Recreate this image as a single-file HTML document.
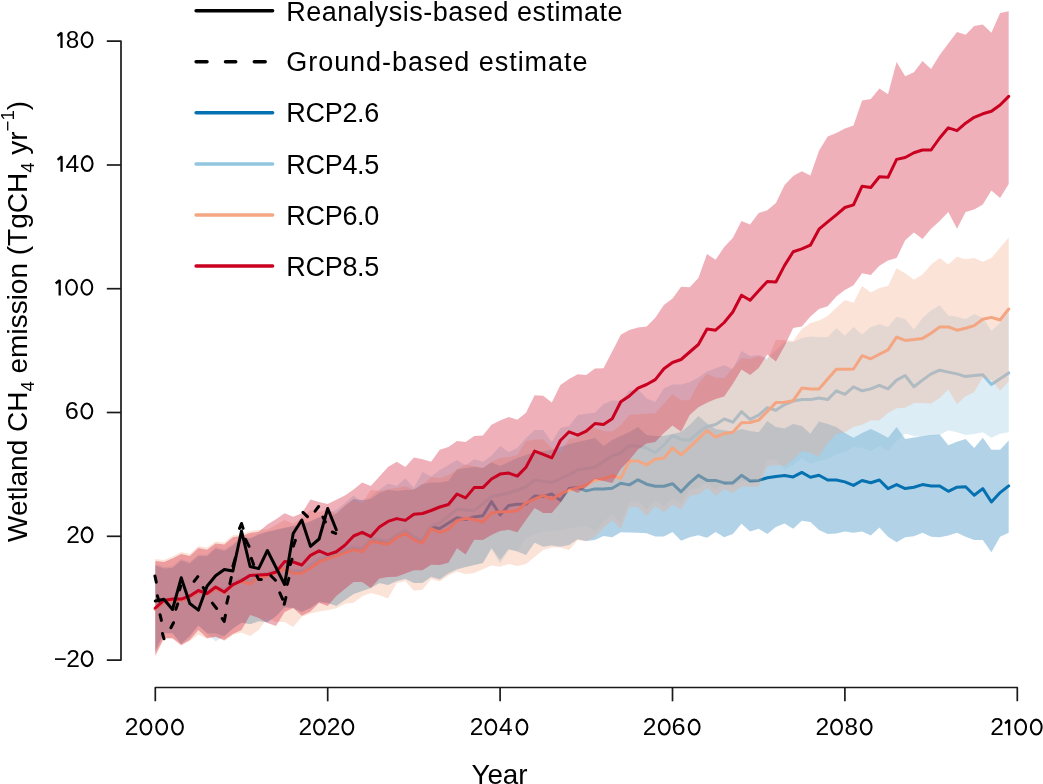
<!DOCTYPE html>
<html><head><meta charset="utf-8"><style>
html,body{margin:0;padding:0;background:#fff;}
body{width:1043px;height:784px;overflow:hidden;font-family:"Liberation Sans",sans-serif;}
svg{display:block;will-change:transform;}
</style></head><body>
<svg width="1043" height="784" viewBox="0 0 1043 784">
<rect width="1043" height="784" fill="#fff"/>
<path d="M155.3,565.5 L163.9,568.4 L172.5,567.9 L181.2,560.6 L189.8,563.4 L198.4,556.1 L207.0,556.3 L215.6,548.5 L224.3,551.1 L232.9,545.4 L241.5,537.5 L250.1,538.5 L258.7,534.5 L267.4,531.9 L276.0,530.0 L284.6,528.1 L293.2,526.2 L301.8,524.3 L310.5,521.5 L319.1,517.5 L327.7,518.0 L336.3,513.6 L344.9,506.0 L353.6,499.0 L362.2,500.0 L370.8,499.0 L379.4,493.0 L388.0,490.0 L396.7,491.0 L405.3,490.0 L413.9,489.4 L422.5,484.0 L431.1,482.5 L439.8,482.5 L448.4,481.0 L457.0,469.5 L465.6,468.0 L474.2,467.0 L482.9,468.0 L491.5,462.6 L500.1,466.0 L508.7,462.0 L517.3,458.0 L526.0,455.0 L534.6,452.0 L543.2,451.0 L551.8,450.0 L560.4,447.0 L569.1,444.0 L577.7,442.0 L586.3,440.0 L594.9,438.0 L603.5,446.0 L612.2,440.0 L620.8,436.0 L629.4,432.0 L638.0,427.0 L646.6,435.0 L655.3,436.0 L663.9,436.0 L672.5,434.0 L681.1,432.0 L689.7,425.0 L698.4,416.0 L707.0,423.4 L715.6,429.0 L724.2,430.3 L732.8,431.8 L741.5,429.0 L750.1,431.0 L758.7,432.3 L767.3,421.0 L775.9,427.0 L784.6,428.5 L793.2,424.0 L801.8,426.0 L810.4,433.7 L819.0,421.6 L827.7,424.0 L836.3,427.0 L844.9,433.0 L853.5,437.7 L862.1,433.0 L870.8,429.1 L879.4,433.0 L888.0,437.7 L896.6,427.0 L905.2,439.0 L913.9,437.5 L922.5,436.3 L931.1,435.0 L939.7,434.5 L948.3,445.2 L957.0,441.7 L965.6,439.0 L974.2,447.9 L982.8,437.7 L991.4,449.7 L1000.1,449.7 L1008.7,440.4 L1008.7,532.8 L1000.1,536.8 L991.4,552.3 L982.8,540.0 L974.2,540.0 L965.6,536.8 L957.0,532.8 L948.3,535.5 L939.7,537.3 L931.1,536.8 L922.5,532.8 L913.9,536.3 L905.2,537.3 L896.6,542.2 L888.0,536.8 L879.4,527.4 L870.8,535.5 L862.1,531.4 L853.5,532.8 L844.9,531.4 L836.3,533.6 L827.7,534.1 L819.0,530.1 L810.4,522.1 L801.8,520.7 L793.2,528.8 L784.6,523.5 L775.9,527.0 L767.3,533.9 L758.7,528.8 L750.1,531.4 L741.5,523.7 L732.8,533.9 L724.2,537.2 L715.6,532.1 L707.0,537.8 L698.4,535.2 L689.7,537.2 L681.1,540.8 L672.5,532.1 L663.9,536.5 L655.3,536.5 L646.6,533.2 L638.0,532.7 L629.4,532.5 L620.8,532.2 L612.2,537.3 L603.5,536.1 L594.9,540.0 L586.3,541.0 L577.7,539.3 L569.1,545.0 L560.4,546.8 L551.8,545.6 L543.2,546.8 L534.6,542.8 L526.0,555.0 L517.3,551.4 L508.7,549.0 L500.1,560.0 L491.5,548.0 L482.9,563.0 L474.2,565.0 L465.6,567.0 L457.0,569.5 L448.4,573.6 L439.8,579.5 L431.1,576.9 L422.5,583.0 L413.9,583.0 L405.3,579.1 L396.7,581.2 L388.0,585.0 L379.4,583.0 L370.8,588.0 L362.2,591.0 L353.6,594.0 L344.9,600.0 L336.3,606.0 L327.7,603.0 L319.1,602.0 L310.5,608.0 L301.8,612.0 L293.2,608.0 L284.6,607.3 L276.0,616.3 L267.4,622.3 L258.7,621.3 L250.1,624.3 L241.5,622.8 L232.9,628.5 L224.3,636.3 L215.6,633.3 L207.0,633.3 L198.4,625.6 L189.8,636.3 L181.2,643.9 L172.5,633.3 L163.9,633.3 L155.3,651.3Z" fill="#0571B0" fill-opacity="0.31"/>
<polyline points="155.3,609.0 163.9,601.4 172.5,600.1 181.2,600.1 189.8,597.0 198.4,591.5 207.0,594.5 215.6,588.0 224.3,591.2 232.9,583.5 241.5,580.0 250.1,582.5 258.7,575.7 267.4,574.8 276.0,571.3 284.6,567.0 293.2,572.0 301.8,571.7 310.5,566.8 319.1,560.5 327.7,557.1 336.3,554.6 344.9,551.4 353.6,548.1 362.2,550.3 370.8,540.1 379.4,541.2 388.0,542.7 396.7,536.2 405.3,531.9 413.9,538.4 422.5,541.6 431.1,527.1 439.8,528.4 448.4,523.0 457.0,517.7 465.6,519.5 474.2,516.9 482.9,515.7 491.5,501.6 500.1,514.9 508.7,505.5 517.3,504.2 526.0,504.2 534.6,496.0 543.2,496.5 551.8,494.0 560.4,500.4 569.1,488.4 577.7,487.6 586.3,490.9 594.9,488.9 603.5,489.1 612.2,488.2 620.8,483.3 629.4,484.9 638.0,479.8 646.6,484.2 655.3,486.2 663.9,486.2 672.5,483.7 681.1,491.8 689.7,482.9 698.4,475.3 707.0,480.4 715.6,480.4 724.2,482.9 732.8,482.9 741.5,475.3 750.1,481.1 758.7,480.4 767.3,477.8 775.9,476.5 784.6,475.5 793.2,476.9 801.8,472.4 810.4,477.3 819.0,475.2 827.7,480.0 836.3,480.0 844.9,481.9 853.5,485.4 862.1,480.5 870.8,482.7 879.4,480.0 888.0,488.6 896.6,484.6 905.2,488.6 913.9,487.2 922.5,484.6 931.1,485.9 939.7,485.9 948.3,491.3 957.0,487.2 965.6,486.7 974.2,495.3 982.8,488.6 991.4,502.0 1000.1,492.6 1008.7,485.9" fill="none" stroke="#0571B0" stroke-width="3.0" stroke-linejoin="round" stroke-linecap="round"/>
<path d="M155.3,564.0 L163.9,566.9 L172.5,566.4 L181.2,559.1 L189.8,561.9 L198.4,554.6 L207.0,554.8 L215.6,547.0 L224.3,549.6 L232.9,543.9 L241.5,537.0 L250.1,538.0 L258.7,534.0 L267.4,531.4 L276.0,529.5 L284.6,527.6 L293.2,525.7 L301.8,523.8 L310.5,521.0 L319.1,517.0 L327.7,513.2 L336.3,510.0 L344.9,503.0 L353.6,495.4 L362.2,503.2 L370.8,497.0 L379.4,489.4 L388.0,483.4 L396.7,486.0 L405.3,478.2 L413.9,487.7 L422.5,472.1 L431.1,476.4 L439.8,470.0 L448.4,465.0 L457.0,460.0 L465.6,465.2 L474.2,459.2 L482.9,461.8 L491.5,455.7 L500.1,446.0 L508.7,452.0 L517.3,448.0 L526.0,438.0 L534.6,430.0 L543.2,430.0 L551.8,442.0 L560.4,428.0 L569.1,426.0 L577.7,415.0 L586.3,413.7 L594.9,412.7 L603.5,404.0 L612.2,400.4 L620.8,401.0 L629.4,390.2 L638.0,389.2 L646.6,398.4 L655.3,401.9 L663.9,388.2 L672.5,384.4 L681.1,384.4 L689.7,382.1 L698.4,377.5 L707.0,371.4 L715.6,368.3 L724.2,365.2 L732.8,369.1 L741.5,351.0 L750.1,356.0 L758.7,355.0 L767.3,358.0 L775.9,350.0 L784.6,342.0 L793.2,342.0 L801.8,338.0 L810.4,336.5 L819.0,337.0 L827.7,337.1 L836.3,328.2 L844.9,335.8 L853.5,326.9 L862.1,334.5 L870.8,326.9 L879.4,324.3 L888.0,326.9 L896.6,316.7 L905.2,319.2 L913.9,329.4 L922.5,318.0 L931.1,310.3 L939.7,305.2 L948.3,315.4 L957.0,316.7 L965.6,319.2 L974.2,314.1 L982.8,318.0 L991.4,330.7 L1000.1,323.1 L1008.7,311.6 L1008.7,432.3 L1000.1,433.7 L991.4,437.7 L982.8,432.3 L974.2,434.0 L965.6,435.0 L957.0,432.3 L948.3,430.2 L939.7,435.0 L931.1,436.0 L922.5,437.0 L913.9,436.0 L905.2,433.5 L896.6,441.0 L888.0,451.0 L879.4,446.0 L870.8,451.0 L862.1,448.0 L853.5,447.0 L844.9,452.0 L836.3,454.0 L827.7,459.0 L819.0,461.0 L810.4,464.0 L801.8,458.0 L793.2,465.0 L784.6,470.0 L775.9,459.0 L767.3,460.3 L758.7,480.7 L750.1,480.7 L741.5,480.7 L732.8,487.1 L724.2,483.3 L715.6,489.7 L707.0,482.0 L698.4,488.4 L689.7,489.7 L681.1,503.7 L672.5,498.6 L663.9,506.2 L655.3,499.9 L646.6,510.1 L638.0,501.1 L629.4,501.1 L620.8,523.0 L612.2,514.3 L603.5,522.0 L594.9,531.0 L586.3,526.0 L577.7,527.0 L569.1,528.0 L560.4,530.0 L551.8,531.0 L543.2,532.0 L534.6,534.0 L526.0,538.0 L517.3,551.0 L508.7,550.0 L500.1,563.6 L491.5,549.0 L482.9,563.0 L474.2,565.0 L465.6,567.0 L457.0,568.5 L448.4,572.6 L439.8,578.5 L431.1,575.9 L422.5,583.0 L413.9,583.0 L405.3,578.1 L396.7,580.2 L388.0,585.0 L379.4,583.0 L370.8,588.0 L362.2,591.0 L353.6,594.0 L344.9,600.0 L336.3,605.2 L327.7,603.0 L319.1,602.0 L310.5,608.0 L301.8,612.0 L293.2,608.0 L284.6,607.0 L276.0,616.0 L267.4,622.0 L258.7,621.0 L250.1,624.0 L241.5,622.5 L232.9,628.2 L224.3,636.0 L215.6,641.6 L207.0,633.0 L198.4,625.3 L189.8,636.0 L181.2,643.6 L172.5,633.0 L163.9,633.0 L155.3,651.0Z" fill="#92C5DE" fill-opacity="0.31"/>
<polyline points="155.3,608.5 163.9,600.9 172.5,599.6 181.2,599.6 189.8,596.5 198.4,591.0 207.0,594.0 215.6,587.5 224.3,589.7 232.9,582.0 241.5,578.5 250.1,581.0 258.7,574.2 267.4,573.3 276.0,569.8 284.6,565.5 293.2,570.5 301.8,570.2 310.5,565.3 319.1,559.0 327.7,555.6 336.3,553.1 344.9,549.9 353.6,546.6 362.2,548.8 370.8,538.6 379.4,539.7 388.0,541.2 396.7,534.7 405.3,530.4 413.9,536.9 422.5,540.1 431.1,525.6 439.8,523.0 448.4,516.1 457.0,509.3 465.6,510.0 474.2,510.6 482.9,503.6 491.5,496.5 500.1,494.8 508.7,493.0 517.3,490.0 526.0,487.0 534.6,480.0 543.2,481.2 551.8,482.5 560.4,478.6 569.1,474.8 577.7,469.7 586.3,468.4 594.9,467.2 603.5,461.4 612.2,455.7 620.8,453.0 629.4,445.5 638.0,446.0 646.6,448.0 655.3,452.7 663.9,445.0 672.5,435.6 681.1,439.4 689.7,440.2 698.4,432.6 707.0,426.6 715.6,424.5 724.2,419.0 732.8,422.2 741.5,411.7 750.1,419.3 758.7,415.1 767.3,407.7 775.9,410.2 784.6,404.5 793.2,401.0 801.8,399.6 810.4,399.6 819.0,398.0 827.7,399.6 836.3,390.8 844.9,394.3 853.5,386.8 862.1,390.8 870.8,388.9 879.4,385.4 888.0,388.9 896.6,380.1 905.2,375.5 913.9,386.8 922.5,380.1 931.1,373.9 939.7,370.2 948.3,372.1 957.0,373.9 965.6,376.6 974.2,375.5 982.8,374.7 991.4,384.6 1000.1,378.8 1008.7,372.9" fill="none" stroke="#92C5DE" stroke-width="3.0" stroke-linejoin="round" stroke-linecap="round"/>
<path d="M155.3,559.0 L163.9,559.9 L172.5,556.4 L181.2,552.1 L189.8,553.9 L198.4,546.1 L207.0,547.8 L215.6,541.4 L224.3,542.6 L232.9,535.2 L241.5,534.0 L250.1,531.0 L258.7,529.7 L267.4,529.5 L276.0,525.0 L284.6,520.0 L293.2,523.8 L301.8,518.0 L310.5,510.0 L319.1,512.0 L327.7,509.4 L336.3,514.0 L344.9,505.0 L353.6,500.0 L362.2,503.0 L370.8,490.0 L379.4,491.0 L388.0,489.0 L396.7,488.0 L405.3,486.0 L413.9,490.0 L422.5,485.0 L431.1,477.3 L439.8,478.0 L448.4,475.0 L457.0,469.5 L465.6,464.4 L474.2,466.0 L482.9,468.0 L491.5,461.8 L500.1,458.0 L508.7,457.0 L517.3,455.0 L526.0,441.0 L534.6,439.7 L543.2,439.3 L551.8,448.0 L560.4,453.0 L569.1,438.4 L577.7,437.5 L586.3,428.0 L594.9,428.0 L603.5,431.0 L612.2,431.5 L620.8,425.0 L629.4,414.7 L638.0,414.2 L646.6,413.7 L655.3,413.2 L663.9,403.5 L672.5,394.0 L681.1,400.4 L689.7,399.7 L698.4,383.6 L707.0,373.7 L715.6,377.5 L724.2,378.2 L732.8,368.0 L741.5,358.0 L750.1,359.0 L758.7,356.0 L767.3,360.0 L775.9,340.0 L784.6,340.0 L793.2,341.0 L801.8,329.0 L810.4,323.0 L819.0,320.5 L827.7,316.0 L836.3,307.7 L844.9,300.1 L853.5,302.7 L862.1,286.1 L870.8,292.4 L879.4,287.9 L888.0,286.1 L896.6,268.2 L905.2,273.3 L913.9,279.7 L922.5,274.6 L931.1,264.4 L939.7,258.0 L948.3,264.4 L957.0,256.7 L965.6,259.3 L974.2,258.0 L982.8,261.8 L991.4,258.0 L1000.1,247.8 L1008.7,237.6 L1008.7,381.4 L1000.1,390.8 L991.4,380.1 L982.8,377.4 L974.2,392.1 L965.6,396.2 L957.0,404.2 L948.3,389.5 L939.7,398.0 L931.1,403.6 L922.5,402.9 L913.9,402.9 L905.2,407.7 L896.6,408.2 L888.0,413.0 L879.4,420.3 L870.8,420.3 L862.1,424.8 L853.5,427.0 L844.9,432.3 L836.3,433.7 L827.7,443.0 L819.0,456.4 L810.4,453.0 L801.8,451.0 L793.2,459.5 L784.6,466.0 L775.9,465.0 L767.3,466.3 L758.7,486.7 L750.1,486.7 L741.5,486.7 L732.8,493.1 L724.2,489.3 L715.6,495.7 L707.0,488.0 L698.4,494.4 L689.7,495.7 L681.1,509.7 L672.5,504.6 L663.9,512.2 L655.3,505.9 L646.6,516.1 L638.0,507.1 L629.4,507.1 L620.8,529.0 L612.2,520.3 L603.5,528.0 L594.9,537.0 L586.3,541.2 L577.7,539.9 L569.1,550.1 L560.4,547.6 L551.8,547.6 L543.2,550.1 L534.6,557.0 L526.0,564.0 L517.3,566.0 L508.7,564.1 L500.1,566.7 L491.5,565.4 L482.9,569.2 L474.2,573.1 L465.6,574.3 L457.0,571.5 L448.4,575.6 L439.8,581.5 L431.1,578.9 L422.5,589.7 L413.9,590.8 L405.3,581.1 L396.7,583.2 L388.0,598.4 L379.4,595.2 L370.8,593.0 L362.2,596.2 L353.6,602.7 L344.9,603.8 L336.3,608.2 L327.7,610.3 L319.1,611.4 L310.5,613.6 L301.8,616.8 L293.2,627.0 L284.6,622.0 L276.0,622.0 L267.4,618.0 L258.7,630.0 L250.1,636.0 L241.5,632.5 L232.9,635.0 L224.3,641.0 L215.6,636.0 L207.0,639.0 L198.4,634.5 L189.8,641.0 L181.2,645.5 L172.5,639.0 L163.9,639.0 L155.3,657.0Z" fill="#F4A582" fill-opacity="0.31"/>
<polyline points="155.3,609.2 163.9,601.6 172.5,600.3 181.2,600.3 189.8,597.2 198.4,591.7 207.0,594.7 215.6,588.2 224.3,592.7 232.9,585.0 241.5,581.5 250.1,584.0 258.7,577.2 267.4,576.3 276.0,572.8 284.6,568.5 293.2,573.5 301.8,573.2 310.5,568.3 319.1,562.0 327.7,558.6 336.3,556.1 344.9,552.9 353.6,549.6 362.2,551.8 370.8,541.6 379.4,542.7 388.0,544.2 396.7,537.7 405.3,533.4 413.9,539.9 422.5,543.1 431.1,528.6 439.8,532.5 448.4,529.2 457.0,520.6 465.6,518.2 474.2,519.5 482.9,522.0 491.5,513.1 500.1,511.8 508.7,511.8 517.3,510.6 526.0,502.9 534.6,499.1 543.2,495.3 551.8,499.1 560.4,494.0 569.1,490.2 577.7,487.6 586.3,485.1 594.9,480.0 603.5,478.9 612.2,475.8 620.8,478.2 629.4,461.0 638.0,461.0 646.6,465.0 655.3,459.0 663.9,458.2 672.5,447.8 681.1,454.8 689.7,447.2 698.4,438.8 707.0,430.5 715.6,437.1 724.2,433.6 732.8,432.2 741.5,422.8 750.1,422.5 758.7,420.1 767.3,411.5 775.9,402.6 784.6,402.3 793.2,400.7 801.8,388.1 810.4,388.9 819.0,388.9 827.7,379.0 836.3,369.2 844.9,369.2 853.5,369.0 862.1,355.7 870.8,358.8 879.4,354.2 888.0,349.8 896.6,337.1 905.2,340.4 913.9,339.6 922.5,338.4 931.1,333.3 939.7,326.9 948.3,326.9 957.0,330.2 965.6,328.2 974.2,325.6 982.8,319.2 991.4,317.4 1000.1,320.0 1008.7,309.0" fill="none" stroke="#F4A582" stroke-width="3.0" stroke-linejoin="round" stroke-linecap="round"/>
<path d="M155.3,561.0 L163.9,561.9 L172.5,558.4 L181.2,554.1 L189.8,555.9 L198.4,548.1 L207.0,549.8 L215.6,543.4 L224.3,544.6 L232.9,537.2 L241.5,536.0 L250.1,533.0 L258.7,531.7 L267.4,524.5 L276.0,519.3 L284.6,513.3 L293.2,516.8 L301.8,513.3 L310.5,499.5 L319.1,502.1 L327.7,504.1 L336.3,499.7 L344.9,495.4 L353.6,489.4 L362.2,482.5 L370.8,485.9 L379.4,476.4 L388.0,467.0 L396.7,461.8 L405.3,467.0 L413.9,457.5 L422.5,459.2 L431.1,461.8 L439.8,449.7 L448.4,447.1 L457.0,441.1 L465.6,441.9 L474.2,435.9 L482.9,435.5 L491.5,424.7 L500.1,420.6 L508.7,417.1 L517.3,419.8 L526.0,412.7 L534.6,395.3 L543.2,395.7 L551.8,402.4 L560.4,385.1 L569.1,379.0 L577.7,374.3 L586.3,374.9 L594.9,368.4 L603.5,368.2 L612.2,351.4 L620.8,334.7 L629.4,330.0 L638.0,327.6 L646.6,326.5 L655.3,317.8 L663.9,305.0 L672.5,298.5 L681.1,286.8 L689.7,287.3 L698.4,278.1 L707.0,254.0 L715.6,259.7 L724.2,247.1 L732.8,237.9 L741.5,221.1 L750.1,224.6 L758.7,213.1 L767.3,210.3 L775.9,203.0 L784.6,185.1 L793.2,175.9 L801.8,171.3 L810.4,175.5 L819.0,150.7 L827.7,136.5 L836.3,133.0 L844.9,128.6 L853.5,125.4 L862.1,100.5 L870.8,99.1 L879.4,88.4 L888.0,94.3 L896.6,62.1 L905.2,76.3 L913.9,72.3 L922.5,61.1 L931.1,69.1 L939.7,54.9 L948.3,43.4 L957.0,32.1 L965.6,34.8 L974.2,26.0 L982.8,24.6 L991.4,32.7 L1000.1,12.9 L1008.7,11.3 L1008.7,184.0 L1000.1,198.1 L991.4,190.5 L982.8,204.4 L974.2,209.5 L965.6,212.1 L957.0,228.7 L948.3,212.1 L939.7,221.0 L931.1,228.7 L922.5,238.9 L913.9,232.5 L905.2,240.2 L896.6,258.0 L888.0,260.6 L879.4,265.7 L870.8,275.1 L862.1,273.3 L853.5,285.3 L844.9,289.9 L836.3,296.4 L827.7,306.2 L819.0,309.0 L810.4,316.6 L801.8,326.6 L793.2,328.0 L784.6,346.0 L775.9,361.5 L767.3,354.5 L758.7,368.0 L750.1,375.0 L741.5,369.5 L732.8,384.0 L724.2,396.6 L715.6,398.9 L707.0,402.7 L698.4,407.3 L689.7,415.0 L681.1,431.8 L672.5,425.6 L663.9,433.0 L655.3,442.0 L646.6,443.5 L638.0,449.6 L629.4,460.0 L620.8,469.0 L612.2,483.0 L603.5,481.0 L594.9,479.0 L586.3,487.0 L577.7,493.0 L569.1,488.9 L560.4,502.9 L551.8,513.1 L543.2,513.1 L534.6,508.0 L526.0,520.0 L517.3,532.2 L508.7,529.7 L500.1,531.0 L491.5,535.0 L482.9,539.9 L474.2,539.8 L465.6,554.4 L457.0,548.3 L448.4,562.8 L439.8,565.0 L431.1,564.8 L422.5,570.2 L413.9,570.2 L405.3,573.5 L396.7,576.7 L388.0,577.0 L379.4,578.4 L370.8,588.0 L362.2,582.0 L353.6,582.0 L344.9,589.0 L336.3,596.0 L327.7,606.0 L319.1,602.7 L310.5,611.4 L301.8,615.8 L293.2,608.0 L284.6,612.0 L276.0,626.0 L267.4,623.0 L258.7,618.0 L250.1,615.0 L241.5,630.0 L232.9,634.0 L224.3,640.0 L215.6,637.0 L207.0,638.0 L198.4,630.0 L189.8,640.0 L181.2,645.0 L172.5,638.0 L163.9,638.0 L155.3,655.0Z" fill="#CA0020" fill-opacity="0.31"/>
<polyline points="155.3,608.0 163.9,600.4 172.5,599.1 181.2,599.1 189.8,596.0 198.4,590.5 207.0,593.5 215.6,587.0 224.3,592.0 232.9,584.7 241.5,580.6 250.1,575.4 258.7,574.9 267.4,574.6 276.0,572.0 284.6,561.6 293.2,562.0 301.8,565.0 310.5,555.3 319.1,550.8 327.7,554.6 336.3,551.8 344.9,545.3 353.6,536.0 362.2,532.3 370.8,536.6 379.4,526.9 388.0,521.4 396.7,518.6 405.3,520.4 413.9,514.3 422.5,513.5 431.1,510.5 439.8,507.0 448.4,504.5 457.0,494.0 465.6,497.9 474.2,487.6 482.9,487.6 491.5,479.0 500.1,474.1 508.7,473.1 517.3,476.1 526.0,467.2 534.6,451.1 543.2,454.4 551.8,457.8 560.4,440.5 569.1,431.8 577.7,435.2 586.3,431.2 594.9,423.6 603.5,424.4 612.2,418.8 620.8,401.8 629.4,395.9 638.0,388.2 646.6,384.5 655.3,379.6 663.9,368.8 672.5,362.5 681.1,359.5 689.7,352.0 698.4,344.5 707.0,329.0 715.6,330.2 724.2,322.5 732.8,312.0 741.5,295.2 750.1,300.3 758.7,290.7 767.3,281.5 775.9,282.0 784.6,265.4 793.2,251.7 801.8,248.9 810.4,245.2 819.0,229.2 827.7,221.8 836.3,214.9 844.9,207.5 853.5,204.9 862.1,186.2 870.8,187.5 879.4,176.8 888.0,177.3 896.6,159.4 905.2,157.5 913.9,152.7 922.5,150.0 931.1,150.0 939.7,138.0 948.3,127.8 957.0,130.7 965.6,123.2 974.2,117.3 982.8,113.8 991.4,111.2 1000.1,105.0 1008.7,96.4" fill="none" stroke="#CA0020" stroke-width="3.0" stroke-linejoin="round" stroke-linecap="round"/>
<polyline points="155.3,601.0 163.9,599.3 172.5,609.5 181.2,577.8 189.8,603.5 198.4,610.1 207.0,586.2 215.6,575.8 224.3,569.5 232.9,571.0 241.5,531.0 250.1,566.5 258.7,568.6 267.4,550.5 276.0,567.5 284.6,584.5 293.2,533.5 301.8,520.0 310.5,546.4 319.1,539.0 327.7,508.5 336.3,529.8" fill="none" stroke="#000" stroke-width="3.0" stroke-linejoin="round" stroke-linecap="round"/>
<path d="M154.9,575.9 L156.3,582.2 M157.4,595.8 L158.9,601.0 M160.0,614.7 L161.4,620.4 M162.5,633.5 L164.0,638.8 M170.9,627.7 L173.5,622.7 M175.9,609.3 L177.7,603.9 M179.6,589.9 L180.7,586.0 M194.1,581.4 L197.8,576.6 M203.2,587.5 L205.0,590.9 M212.4,603.1 L216.6,608.5 M222.2,618.5 L224.2,621.4 L225.4,615.2 M226.8,603.1 L228.3,596.8 M229.9,583.7 L231.3,577.4 M232.9,566.1 L235.4,557.8 M239.5,528.4 L241.5,523.5 L243.1,528.4 M245.4,539.3 L249.0,546.3 M251.4,558.4 L253.6,564.6 M256.9,576.1 L258.7,579.5 L261.3,579.5 M270.9,575.7 L275.4,580.2 M279.8,592.8 L282.6,599.1 M284.2,604.3 L285.9,597.5 M287.2,584.4 L288.9,578.4 M290.3,564.6 L292.0,559.2 M293.4,546.1 L295.4,540.3 M303.0,512.3 L307.5,516.6 M315.1,511.2 L318.6,506.5 M322.9,517.1 L325.4,521.9 M332.3,532.0 L335.7,533.4" fill="none" stroke="#000" stroke-width="3.0" stroke-linejoin="round" stroke-linecap="round"/>
<path d="M106.8,41.2 H121 V660.1 H106.8" fill="none" stroke="#1a1a1a" stroke-width="1.7" stroke-linejoin="round"/>
<path d="M106.8,165.0 H121" stroke="#1a1a1a" stroke-width="1.7"/>
<path d="M106.8,288.7 H121" stroke="#1a1a1a" stroke-width="1.7"/>
<path d="M106.8,412.5 H121" stroke="#1a1a1a" stroke-width="1.7"/>
<path d="M106.8,536.3 H121" stroke="#1a1a1a" stroke-width="1.7"/>
<path d="M155.3,701.3 V687.5 H1017.3 V701.3" fill="none" stroke="#1a1a1a" stroke-width="1.7" stroke-linejoin="round"/>
<path d="M327.7,687.5 V701.3" stroke="#1a1a1a" stroke-width="1.7"/>
<path d="M500.1,687.5 V701.3" stroke="#1a1a1a" stroke-width="1.7"/>
<path d="M672.5,687.5 V701.3" stroke="#1a1a1a" stroke-width="1.7"/>
<path d="M844.9,687.5 V701.3" stroke="#1a1a1a" stroke-width="1.7"/>
<path d="M57.50,36.00 L61.50,32.70 L61.50,48.00" fill="none" stroke="#000" stroke-width="2.3" stroke-linejoin="bevel"/>
<text transform="translate(65.64,48.00) scale(1.021,1)" font-family="Liberation Sans, sans-serif" font-size="23.8" fill="#000">8</text>
<ellipse cx="87.05" cy="39.75" rx="5.4" ry="7.45" fill="none" stroke="#000" stroke-width="2.05"/>
<path d="M57.60,159.80 L61.60,156.50 L61.60,171.80" fill="none" stroke="#000" stroke-width="2.3" stroke-linejoin="bevel"/>
<text transform="translate(65.54,171.80) scale(1.034,1)" font-family="Liberation Sans, sans-serif" font-size="23.8" fill="#000">4</text>
<ellipse cx="87.15" cy="163.55" rx="5.4" ry="7.45" fill="none" stroke="#000" stroke-width="2.05"/>
<path d="M55.70,283.50 L59.70,280.20 L59.70,295.50" fill="none" stroke="#000" stroke-width="2.3" stroke-linejoin="bevel"/>
<ellipse cx="71.55" cy="287.25" rx="5.4" ry="7.45" fill="none" stroke="#000" stroke-width="2.05"/>
<ellipse cx="86.85" cy="287.25" rx="5.4" ry="7.45" fill="none" stroke="#000" stroke-width="2.05"/>
<text transform="translate(64.81,419.30) scale(1.065,1)" font-family="Liberation Sans, sans-serif" font-size="23.8" fill="#000">6</text>
<ellipse cx="86.85" cy="411.05" rx="5.4" ry="7.45" fill="none" stroke="#000" stroke-width="2.05"/>
<text transform="translate(66.26,543.10) scale(1.033,1)" font-family="Liberation Sans, sans-serif" font-size="23.8" fill="#000">2</text>
<ellipse cx="87.05" cy="534.85" rx="5.4" ry="7.45" fill="none" stroke="#000" stroke-width="2.05"/>
<text transform="translate(54.11,666.90) scale(0.925,1)" font-family="Liberation Sans, sans-serif" font-size="23.8" fill="#000">−</text>
<text transform="translate(66.26,666.90) scale(1.033,1)" font-family="Liberation Sans, sans-serif" font-size="23.8" fill="#000">2</text>
<ellipse cx="87.05" cy="658.65" rx="5.4" ry="7.45" fill="none" stroke="#000" stroke-width="2.05"/>
<text transform="translate(124.76,735.30) scale(1.033,1)" font-family="Liberation Sans, sans-serif" font-size="23.8" fill="#000">2</text>
<ellipse cx="145.95" cy="727.05" rx="5.4" ry="7.45" fill="none" stroke="#000" stroke-width="2.05"/>
<ellipse cx="161.65" cy="727.05" rx="5.4" ry="7.45" fill="none" stroke="#000" stroke-width="2.05"/>
<ellipse cx="177.45" cy="727.05" rx="5.4" ry="7.45" fill="none" stroke="#000" stroke-width="2.05"/>
<text transform="translate(298.46,735.30) scale(1.033,1)" font-family="Liberation Sans, sans-serif" font-size="23.8" fill="#000">2</text>
<ellipse cx="319.45" cy="727.05" rx="5.4" ry="7.45" fill="none" stroke="#000" stroke-width="2.05"/>
<text transform="translate(326.86,735.30) scale(1.033,1)" font-family="Liberation Sans, sans-serif" font-size="23.8" fill="#000">2</text>
<ellipse cx="347.85" cy="727.05" rx="5.4" ry="7.45" fill="none" stroke="#000" stroke-width="2.05"/>
<text transform="translate(469.76,735.30) scale(1.033,1)" font-family="Liberation Sans, sans-serif" font-size="23.8" fill="#000">2</text>
<ellipse cx="490.85" cy="727.05" rx="5.4" ry="7.45" fill="none" stroke="#000" stroke-width="2.05"/>
<text transform="translate(498.94,735.30) scale(1.034,1)" font-family="Liberation Sans, sans-serif" font-size="23.8" fill="#000">4</text>
<ellipse cx="521.95" cy="727.05" rx="5.4" ry="7.45" fill="none" stroke="#000" stroke-width="2.05"/>
<text transform="translate(642.76,735.30) scale(1.033,1)" font-family="Liberation Sans, sans-serif" font-size="23.8" fill="#000">2</text>
<ellipse cx="664.25" cy="727.05" rx="5.4" ry="7.45" fill="none" stroke="#000" stroke-width="2.05"/>
<text transform="translate(671.61,735.30) scale(1.065,1)" font-family="Liberation Sans, sans-serif" font-size="23.8" fill="#000">6</text>
<ellipse cx="694.15" cy="727.05" rx="5.4" ry="7.45" fill="none" stroke="#000" stroke-width="2.05"/>
<text transform="translate(815.46,735.30) scale(1.033,1)" font-family="Liberation Sans, sans-serif" font-size="23.8" fill="#000">2</text>
<ellipse cx="836.55" cy="727.05" rx="5.4" ry="7.45" fill="none" stroke="#000" stroke-width="2.05"/>
<text transform="translate(844.54,735.30) scale(1.021,1)" font-family="Liberation Sans, sans-serif" font-size="23.8" fill="#000">8</text>
<ellipse cx="866.15" cy="727.05" rx="5.4" ry="7.45" fill="none" stroke="#000" stroke-width="2.05"/>
<text transform="translate(990.16,735.30) scale(1.033,1)" font-family="Liberation Sans, sans-serif" font-size="23.8" fill="#000">2</text>
<path d="M1005.10,723.30 L1009.10,720.00 L1009.10,735.30" fill="none" stroke="#000" stroke-width="2.3" stroke-linejoin="bevel"/>
<ellipse cx="1020.65" cy="727.05" rx="5.4" ry="7.45" fill="none" stroke="#000" stroke-width="2.05"/>
<ellipse cx="1036.25" cy="727.05" rx="5.4" ry="7.45" fill="none" stroke="#000" stroke-width="2.05"/>
<text x="499.5" y="784" font-family="Liberation Sans, sans-serif" font-size="27.8" text-anchor="middle" fill="#000">Year</text>
<text transform="translate(27.3,542) rotate(-90)" font-family="Liberation Sans, sans-serif" font-size="28" fill="#000">Wetland CH<tspan font-size="18.5" dy="7">4</tspan><tspan dy="-7"> emission (TgCH</tspan><tspan font-size="18.5" dy="7">4</tspan><tspan dy="-7"> yr</tspan><tspan font-size="18.5" dy="-13">−1</tspan><tspan dy="13">)</tspan></text>
<path d="M196.1,10.8 H272.6" stroke="#000" stroke-width="3.5" stroke-linecap="round"/>
<text x="286.3" y="20.9" font-family="Liberation Sans, sans-serif" font-size="27" letter-spacing="0.5" fill="#000">Reanalysis-based estimate</text>
<path d="M196.1,61.7 H207 M225.5,61.7 H235.7 M254.3,61.7 H265.2" stroke="#000" stroke-width="3.5" stroke-linecap="round"/>
<text x="286.3" y="71.2" font-family="Liberation Sans, sans-serif" font-size="27" letter-spacing="0.95" fill="#000">Ground-based estimate</text>
<path d="M196.1,112.8 H272.6" stroke="#0571B0" stroke-width="3.5" stroke-linecap="round"/>
<text x="286.3" y="122.3" font-family="Liberation Sans, sans-serif" font-size="27" letter-spacing="-0.3" fill="#000">RCP2.6</text>
<path d="M196.1,164 H272.6" stroke="#92C5DE" stroke-width="3.5" stroke-linecap="round"/>
<text x="286.3" y="173.5" font-family="Liberation Sans, sans-serif" font-size="27" letter-spacing="-0.3" fill="#000">RCP4.5</text>
<path d="M196.1,215 H272.6" stroke="#F4A582" stroke-width="3.5" stroke-linecap="round"/>
<text x="286.3" y="224.5" font-family="Liberation Sans, sans-serif" font-size="27" letter-spacing="-0.3" fill="#000">RCP6.0</text>
<path d="M196.1,266 H272.6" stroke="#CA0020" stroke-width="3.5" stroke-linecap="round"/>
<text x="286.3" y="275.5" font-family="Liberation Sans, sans-serif" font-size="27" letter-spacing="-0.3" fill="#000">RCP8.5</text>
</svg>
</body></html>
